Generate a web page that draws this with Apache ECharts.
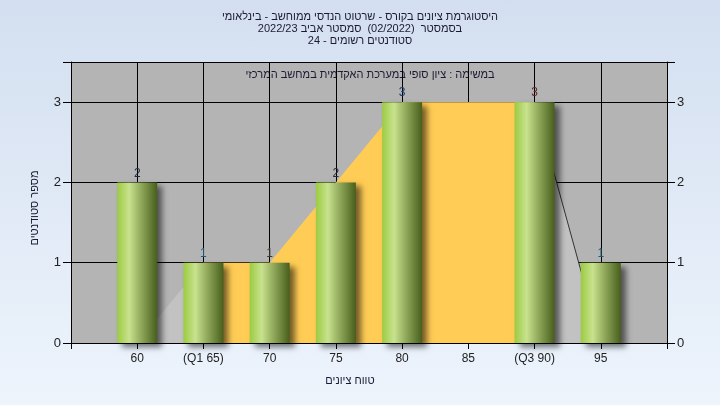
<!DOCTYPE html>
<html><head><meta charset="utf-8">
<script src="https://cdn.jsdelivr.net/npm/echarts@6/dist/echarts.min.js"></script>
<style>html,body{margin:0;padding:0;}#c{width:720px;height:405px;background:linear-gradient(#d3dff0,#edf4fc);}</style>
</head><body><div id="c"></div>
<script>
const titleLines = ['היסטוגרמת ציונים בקורס - שרטוט הנדסי ממוחשב - בינלאומי', 'בסמסטר  (02/2022)  סמסטר אביב 2022/23', 'סטודנטים רשומים - 24'];
const subTitle = 'במשימה : ציון סופי במערכת האקדמית במחשב המרכזי';
const xAxisTitle = 'טווח ציונים';
const yAxisTitle = 'מספר סטודנטים';
const scores = [60, 65, 70, 75, 80, 85, 90, 95];
const tickLabels = {60:'60', 65:'(Q1 65)', 70:'70', 75:'75', 80:'80', 85:'85', 90:'(Q3 90)', 95:'95'};
const counts = [2, 1, 1, 2, 3, 0, 3, 1];
const labelColors = ['#1a2a44', '#1a5a7a', '#3a3a2a', '#2a2a3a', '#1a3a6a', '#000', '#5a2a2a', '#1a5a7a'];
const boxScores = [65, 70, 75, 80, 85, 90];
const boxValues = [1, 1, 2, 3, 3, 3];
const lowWhisker = [[60, 0], [65, 1]];
const highWhisker = [[90, 3], [95, 0]];

const chart = echarts.init(document.getElementById('c'), null, {renderer: 'canvas'});
const font = 'Liberation Sans';
const barGrad = new echarts.graphic.LinearGradient(0, 0, 1, 0, [
  {offset: 0, color: '#9ccb42'}, {offset: 0.3, color: '#c8e28e'},
  {offset: 0.6, color: '#8fa85a'}, {offset: 1, color: '#485e1c'}]);
chart.setOption({
  animation: false,
  textStyle: {fontFamily: font},
  grid: {left: 71, right: 53, top: 62, bottom: 62, show: true, backgroundColor: '#b4b4b4', borderWidth: 0},
  graphic: [
    {type: 'text', left: 'center', top: 11, style: {text: titleLines.join('\n'), font: '11px ' + font, fill: '#1a1a33', textAlign: 'center', lineHeight: 12}},
    {type: 'text', x: 370, y: 75, style: {text: subTitle, font: '11px ' + font, fill: '#1a1a33', align: 'center', verticalAlign: 'middle'}},
    {type: 'text', x: 350, y: 381, style: {text: xAxisTitle, font: '11px ' + font, fill: '#1a1a33', align: 'center', verticalAlign: 'middle'}},
    {type: 'text', x: 35, y: 208, rotation: Math.PI / 2, style: {text: yAxisTitle, font: '11px ' + font, fill: '#1a1a33', align: 'center', verticalAlign: 'middle'}}
  ],
  xAxis: {
    type: 'value', min: 55, max: 100, interval: 5,
    axisLine: {lineStyle: {color: '#000', width: 1}},
    axisTick: {show: true, length: 6, lineStyle: {color: '#000'}},
    axisLabel: {fontSize: 12, color: '#222', margin: 10, formatter: v => tickLabels[v] || ''},
    splitLine: {show: true, lineStyle: {color: '#000', width: 1}}
  },
  yAxis: [
    {type: 'value', min: 0, max: 3.5, interval: 1, position: 'left',
     axisLine: {show: true, lineStyle: {color: '#000'}},
     axisTick: {show: true, length: 8, lineStyle: {color: '#000'}},
     axisLabel: {fontSize: 13, color: '#222', margin: 10, formatter: v => v <= 3 ? String(v) : ''},
     splitLine: {show: true, lineStyle: {color: '#000', width: 1}}},
    {type: 'value', min: 0, max: 3.5, interval: 1, position: 'right',
     axisLine: {show: true, lineStyle: {color: '#000'}},
     axisTick: {show: true, length: 8, lineStyle: {color: '#000'}},
     axisLabel: {fontSize: 13, color: '#222', margin: 10, formatter: v => v <= 3 ? String(v) : ''},
     splitLine: {show: false}}
  ],
  series: [
    {type: 'line', data: lowWhisker, symbol: 'none', z: 1,
     lineStyle: {width: 0, opacity: 0}, areaStyle: {color: '#c2c2c2', opacity: 1}},
    {type: 'line', data: highWhisker, symbol: 'none', z: 1,
     lineStyle: {width: 1, color: '#333'}, areaStyle: {color: '#c2c2c2', opacity: 1}},
    {type: 'line', data: boxScores.map((s, i) => [s, boxValues[i]]), symbol: 'none', z: 1,
     lineStyle: {width: 0, opacity: 0}, areaStyle: {color: '#ffcc55', opacity: 1}},
    {type: 'bar', barWidth: 40, z: 3,
     data: scores.map((s, i) => ({value: [s, counts[i]], label: {color: labelColors[i]}})),
     itemStyle: {color: barGrad, shadowColor: 'rgba(0,0,0,0.55)', shadowBlur: 6, shadowOffsetX: 5, shadowOffsetY: 4},
     label: {show: true, position: 'top', distance: 3, fontSize: 12, formatter: p => p.value[1] ? String(p.value[1]) : ''}}
  ]
});
</script></body></html>
